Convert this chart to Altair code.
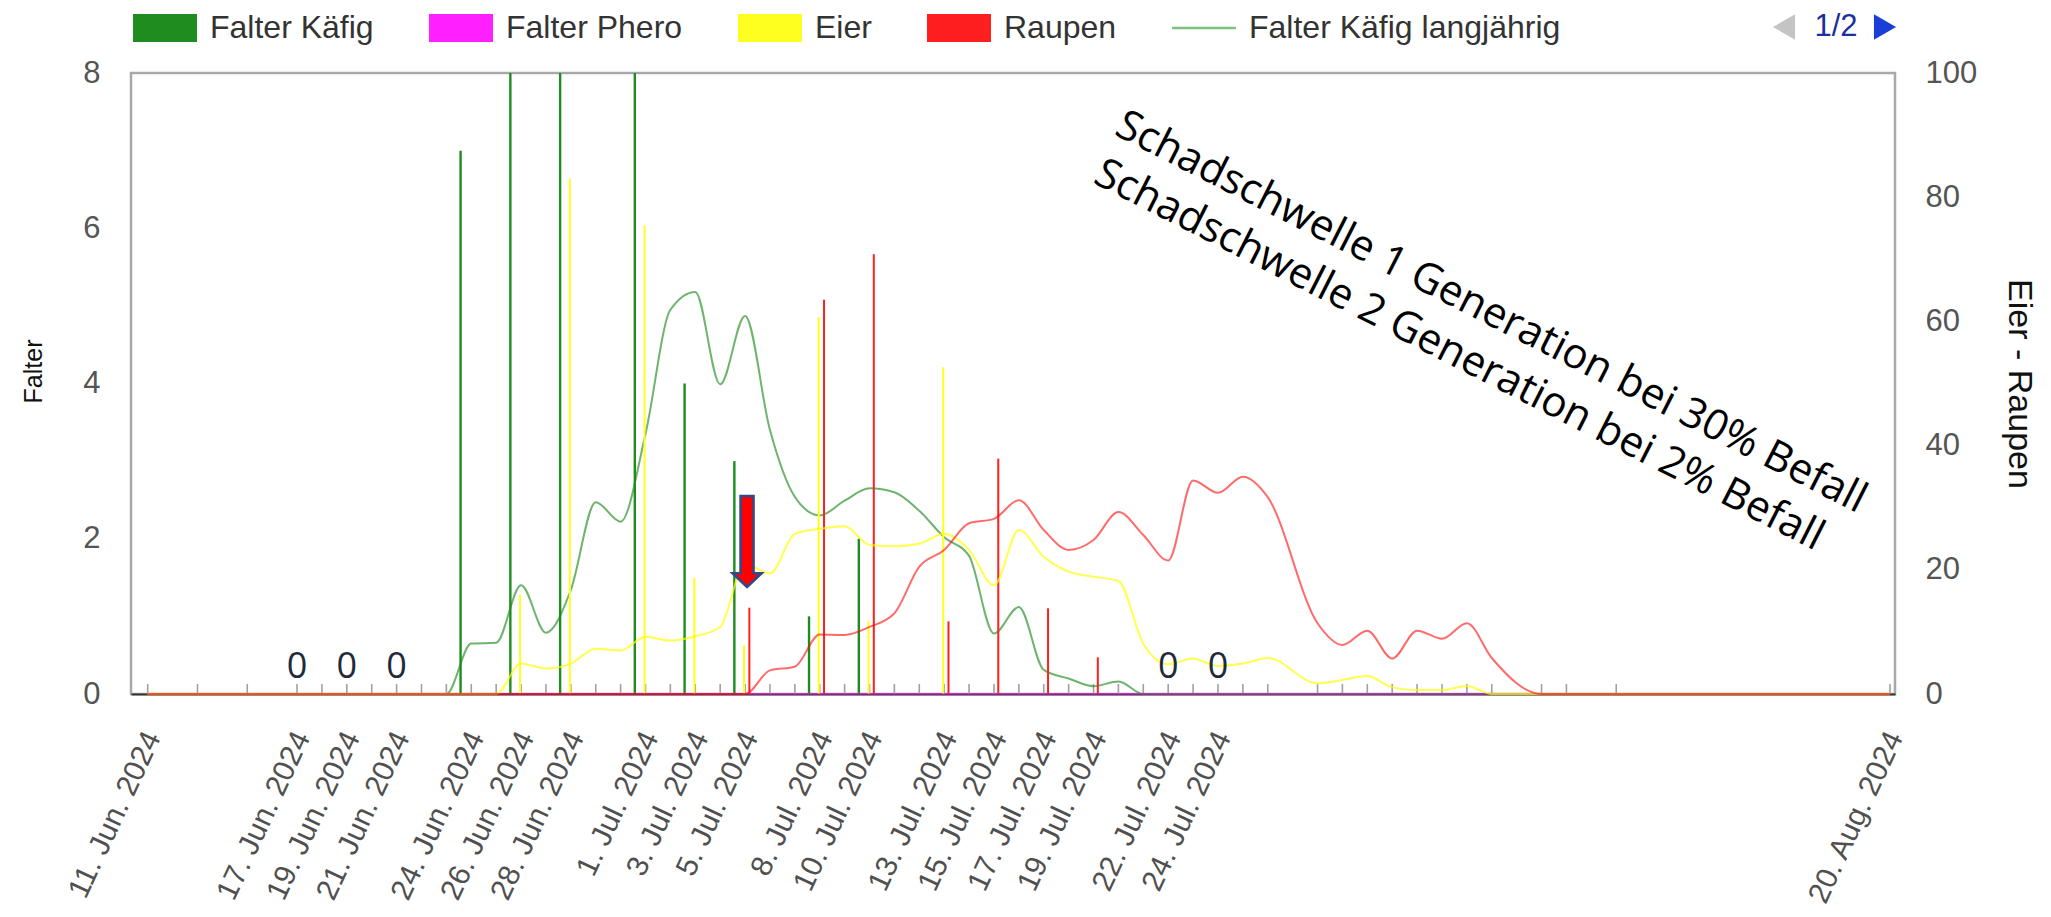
import json
import altair as alt
import pandas as pd

# ---------------- data ----------------
obs_dates = ["2024-06-11", "2024-06-17", "2024-06-19", "2024-06-21", "2024-06-24", "2024-06-26",
             "2024-06-28", "2024-07-01", "2024-07-03", "2024-07-05", "2024-07-08", "2024-07-10",
             "2024-07-13", "2024-07-15", "2024-07-17", "2024-07-19", "2024-07-22", "2024-07-24",
             "2024-08-20"]
falter_kaefig = [0, 0, 0, 0, 7, 8, 8, 8, 4, 3, 1, 2, 0, 0, 0, 0, 0, 0, 0]
falter_phero = [0, 0, 0, 0, 0, 0, 0, 0, 0, 0, 0, 0, 0, 0, 0, 0, 0, 0, 0]
eier = [0, 0, 0, 0, 0, 16, 83, 75.5, 18.7, 7.9, 60.7, 11.7, 52.6, 0, 0, 0, 0, 0, 0]
raupen = [0, 0, 0, 0, 0, 0, 0, 0, 0, 13.9, 63.5, 70.8, 11.7, 37.9, 13.8, 5.9, 0, 0, 0]

zero_label_dates = ["2024-06-17", "2024-06-19", "2024-06-21", "2024-07-22", "2024-07-24"]
zero_label_values = [0, 0, 0, 0, 0]

lt_dates = ["2024-06-11", "2024-06-13", "2024-06-15", "2024-06-17", "2024-06-18", "2024-06-19",
            "2024-06-20", "2024-06-21", "2024-06-22", "2024-06-23", "2024-06-24", "2024-06-25",
            "2024-06-26", "2024-06-27", "2024-06-28", "2024-06-29", "2024-06-30",
            "2024-07-01", "2024-07-02", "2024-07-03", "2024-07-04", "2024-07-05", "2024-07-06",
            "2024-07-07", "2024-07-08", "2024-07-09", "2024-07-10", "2024-07-11", "2024-07-12",
            "2024-07-13", "2024-07-14", "2024-07-15", "2024-07-16", "2024-07-17", "2024-07-18",
            "2024-07-19", "2024-07-20", "2024-07-21", "2024-07-22", "2024-07-23", "2024-07-24",
            "2024-07-25", "2024-07-26", "2024-07-28", "2024-07-29", "2024-07-30", "2024-07-31",
            "2024-08-01", "2024-08-02", "2024-08-03", "2024-08-04", "2024-08-06", "2024-08-07",
            "2024-08-09", "2024-08-20"]
kaefig_lt = [0, 0, 0, 0, 0, 0, 0, 0, 0, 0, 0.65, 0.66, 1.40, 0.79, 1.34, 2.47, 2.22,
             3.35, 4.95, 5.18, 3.99, 4.87, 3.40, 2.54, 2.30, 2.49, 2.65, 2.60, 2.36, 2.02, 1.78,
             0.78, 1.12, 0.31, 0.20, 0.10, 0.16, 0, 0, 0, 0, 0, 0,
             0, 0, 0, 0, 0, 0, 0, 0, 0, 0, 0, 0]
phero_lt = [0, 0, 0, 0, 0, 0, 0, 0, 0, 0, 0, 0, 0, 0, 0, 0, 0,
            0, 0, 0, 0, 0, 0, 0, 0, 0, 0, 0, 0, 0, 0, 0, 0, 0, 0, 0, 0, 0, 0, 0, 0, 0, 0,
            0, 0, 0, 0, 0, 0, 0, 0, 0, 0, 0, 0]
eier_lt = [0, 0, 0, 0, 0, 0, 0, 0, 0, 0, 0, 0, 4.9, 4.1, 4.9, 7.3, 7.0,
           9.2, 8.6, 9.3, 10.8, 21.0, 19.4, 25.8, 26.6, 27.0, 24.0, 23.8, 24.2, 25.8, 23.2,
           17.5, 26.4, 22.1, 19.7, 18.9, 18.2, 8.1, 4.8, 5.7, 4.5, 4.9, 5.8,
           1.7, 2.25, 2.9, 1.07, 0.64, 0.64, 1.3, 0, 0, 0, 0, 0]
raupen_lt = [0, 0, 0, 0, 0, 0, 0, 0, 0, 0, 0, 0, 0, 0, 0, 0, 0,
             0, 0, 0, 0, 0, 3.8, 4.4, 9.6, 9.5, 10.8, 13.0, 20.5, 23.2, 27.5,
             28.2, 31.2, 26.4, 23.2, 24.8, 29.3, 25.6, 21.5, 34.4, 32.4, 35.0, 31.7,
             11.4, 7.9, 10.2, 5.7, 10.2, 8.9, 11.4, 5.8, 0, 0, 0, 0]

legend_names = ["Falter Käfig", "Falter Phero", "Eier", "Raupen", "Falter Käfig langjährig"]
legend_colors = ["#1f8c1f", "#ff1fff", "#ffff1f", "#ff1f1f", "#80c080"]

# ---------------- helpers ----------------
FONT = "Liberation Sans"


def dt(s, h=0, m=0):
    y, mo, d = (int(p) for p in s.split("-"))
    return alt.DateTime(year=y, month=mo, date=d, hours=h, minutes=m)


obs_df = pd.DataFrame({"date": [d + "T00:00:00" for d in obs_dates], "kaefig": falter_kaefig,
                       "phero": falter_phero, "eier": eier, "raupen": raupen})
lt_df = pd.DataFrame({"date": [d + "T00:00:00" for d in lt_dates], "kaefig_lt": kaefig_lt,
                      "phero_lt": phero_lt, "eier_lt": eier_lt, "raupen_lt": raupen_lt})
zero_df = pd.DataFrame({"date": [d + "T00:00:00" for d in zero_label_dates], "v": zero_label_values})
one_df = pd.DataFrame({"k": [0]})

xscale = alt.Scale(domain=[dt("2024-06-10", 7, 54), dt("2024-08-20", 4, 49)])
xaxis = alt.Axis(values=[dt(d) for d in obs_dates], format="%-d. %b. %Y", title=None,
                 labelAngle=-65, labelAlign="right", labelBaseline="middle",
                 labelFont=FONT, labelFontSize=30, labelColor="#505050",
                 labelPadding=39, labelOffset=5, labelOverlap=False, labelBound=False,
                 labelFlush=False, labelLimit=400, labelSeparation=0,
                 ticks=False, tickSize=0, grid=False,
                 domain=True, domainColor="#333333", domainWidth=2)


def xenc():
    return alt.X("date:T", scale=xscale, axis=xaxis, title=None)


def xdat(d):
    return alt.XDatum(d, scale=xscale, axis=xaxis, type="temporal")


left_axis = alt.Axis(orient="left", values=[0, 2, 4, 6, 8, 1, 3, 5, 7], format="d",
                     labelExpr="datum.value % 2 === 0 ? datum.label : ''",
                     title="Falter", titleFont=FONT, titleFontSize=25, titleFontWeight="normal",
                     titleColor="#111111", titleX=-98, titleY=298, titleAngle=270,
                     titleAlign="center", titleBaseline="middle",
                     labelFont=FONT, labelFontSize=31, labelColor="#555555", labelPadding=31,
                     ticks=False, tickSize=0, domain=False,
                     gridColor={"condition": {"test": "datum.value % 2 === 0", "value": "#c9c9c9"},
                                "value": "#ececec"},
                     gridWidth=1.5)
right_axis = alt.Axis(orient="right", values=[0, 20, 40, 60, 80, 100, 10, 30, 50, 70, 90], format="d",
                      labelExpr="datum.value % 20 === 0 ? datum.label : ''",
                      title="Eier - Raupen", titleFont=FONT, titleFontSize=34,
                      titleFontWeight="normal", titleColor="#111111", titleX=123, titleY=310.5,
                      titleAngle=90, titleAlign="center", titleBaseline="middle",
                      labelFont=FONT, labelFontSize=31, labelColor="#555555", labelPadding=30,
                      ticks=False, tickSize=0, domain=False,
                      gridColor={"condition": {"test": "datum.value % 20 === 0", "value": "#c9c9c9"},
                                 "value": "#ececec"},
                      gridWidth=1.5)
lscale = alt.Scale(domain=[0, 8], nice=False)
rscale = alt.Scale(domain=[0, 100], nice=False)


def yl(field):
    return alt.Y(field, scale=lscale, axis=left_axis, title="Falter")


def yr(field):
    return alt.Y(field, scale=rscale, axis=right_axis, title="Eier - Raupen")


# ---------------- left (Falter) layers ----------------
ticks_layer = alt.Chart(lt_df).mark_tick(orient="vertical", size=10, thickness=1.6,
                                         color="#a0a0a0", opacity=1, yOffset=-5).encode(
    x=xenc(), y=alt.YDatum(0, scale=lscale, axis=left_axis))

green_bars = alt.Chart(obs_df).transform_filter("datum.kaefig > 0").mark_rule(
    color="#1f8c1f", strokeWidth=2.4, xOffset=-10.7).encode(
    x=xenc(), y=yl("kaefig:Q"), y2=alt.Y2Datum(0))

green_curve = alt.Chart(lt_df).mark_line(interpolate="monotone", color="#1f8c1f",
                                         opacity=0.65, strokeWidth=2).encode(
    x=xenc(), y=yl("kaefig_lt:Q"))

left = alt.layer(ticks_layer, green_bars, green_curve)

# ---------------- right (Eier / Raupen) layers ----------------
yellow_bars = alt.Chart(obs_df).transform_filter("datum.eier > 0").mark_rule(
    color="#ffff1f", strokeWidth=2, xOffset=-1).encode(
    x=xenc(), y=yr("eier:Q"), y2=alt.Y2Datum(0))

red_bars = alt.Chart(obs_df).transform_filter("datum.raupen > 0").mark_rule(
    color="#ff1f1f", strokeWidth=2, xOffset=4.3).encode(
    x=xenc(), y=yr("raupen:Q"), y2=alt.Y2Datum(0))

phero_line = alt.Chart(lt_df).mark_line(color="#ff00ff", opacity=0.5, strokeWidth=2.2).encode(
    x=xenc(), y=yr("phero_lt:Q"))

yellow_curve = alt.Chart(lt_df).mark_line(interpolate="monotone", color="#ffff00",
                                          opacity=0.7, strokeWidth=2).encode(
    x=xenc(), y=yr("eier_lt:Q"))

red_curve = alt.Chart(lt_df).mark_line(interpolate="monotone", color="#ff0000",
                                       opacity=0.58, strokeWidth=2).encode(
    x=xenc(), y=yr("raupen_lt:Q"))

zero_labels = alt.Chart(zero_df).mark_text(font="Open Sans", fontSize=36, color="#1f2b3b",
                                           dy=-27, align="center", baseline="middle").encode(
    x=xenc(), y=yr("v:Q"), text="v:Q")

arrow_path = "M-0.143,-1L0.143,-1L0.143,0.7L0.32,0.7L0,1L-0.32,0.7L-0.143,0.7Z"
arrow = alt.Chart(one_df).mark_point(shape=arrow_path, size=8281, filled=True, color="#ff0000",
                                     stroke="#2e4a8a", strokeWidth=2.5, opacity=1,
                                     xOffset=2).encode(
    x=xdat(dt("2024-07-05")), y=alt.YDatum(24.57, scale=rscale, axis=right_axis))

note1 = alt.Chart(one_df).mark_text(text="Schadschwelle 1 Generation bei 30% Befall",
                                    font="Open Sans", fontSize=42, angle=27, color="#000000",
                                    align="center", baseline="middle").encode(
    x=xdat(dt("2024-08-03", 23, 30)), y=alt.YDatum(61.5, scale=rscale, axis=right_axis))
note2 = alt.Chart(one_df).mark_text(text="Schadschwelle 2 Generation bei 2% Befall",
                                    font="Open Sans", fontSize=42, angle=27, color="#000000",
                                    align="center", baseline="middle").encode(
    x=xdat(dt("2024-08-02", 16, 48)), y=alt.YDatum(54.6, scale=rscale, axis=right_axis))

legend_shapes = ["M-1,-0.44L1,-0.44L1,0.44L-1,0.44Z"] * 4 + ["M-1,-0.04L1,-0.04L1,0.04L-1,0.04Z"]
leg = alt.Legend(title=None, orient="none", legendX=2, legendY=-77, direction="horizontal",
                 columns=5, symbolSize=4096, symbolStrokeWidth=0, symbolOpacity=1,
                 labelFont=FONT, labelFontSize=32, labelColor="#333333", labelOffset=13,
                 columnPadding=55, padding=0, labelLimit=0)
legend_layer = alt.Chart(pd.DataFrame({"series": legend_names})).mark_point(
    filled=True, clip=True, opacity=1).encode(
    x=xdat(dt("2024-01-01")), y=alt.YDatum(50, scale=rscale, axis=right_axis),
    color=alt.Color("series:N", scale=alt.Scale(domain=legend_names, range=legend_colors), legend=leg),
    shape=alt.Shape("series:N", scale=alt.Scale(domain=legend_names, range=legend_shapes), legend=leg))

pager_left = alt.Chart(one_df).mark_point(shape="triangle-left", filled=True, size=650,
                                          color="#c4c4c4", opacity=1).encode(
    x=alt.value(1653), y=alt.value(-46))
pager_text = alt.Chart(one_df).mark_text(text="1/2", font=FONT, fontSize=31, color="#1c2f9e",
                                         align="center", baseline="middle").encode(
    x=alt.value(1705), y=alt.value(-46))
pager_right = alt.Chart(one_df).mark_point(shape="triangle-right", filled=True, size=650,
                                           color="#1a3fd6", opacity=1).encode(
    x=alt.value(1754), y=alt.value(-46))

right = alt.layer(yellow_bars, red_bars, phero_line, yellow_curve, red_curve, zero_labels,
                  arrow, note1, note2, legend_layer, pager_left, pager_text, pager_right)

chart = alt.layer(left, right).resolve_scale(y="independent").properties(
    width=1764, height=621,
    autosize=alt.AutoSizeParams(type="none"),
    padding={"left": 123, "top": 65, "right": 148, "bottom": 212},
    background="white",
).configure_view(stroke="#a8a8a8", strokeWidth=2.5).configure_axis(
    labelOverlap=False).configure_axisX(labelOverlap=False)

chart.save("out.html", embed_options={"renderer": "svg", "actions": False})
